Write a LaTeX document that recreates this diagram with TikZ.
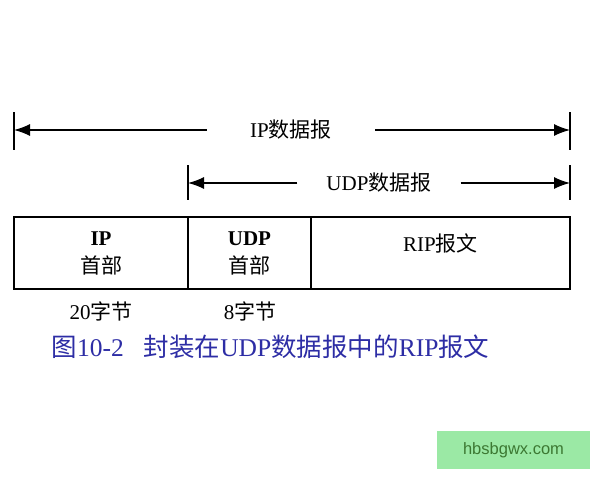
\documentclass[tikz,border=0pt]{standalone}
\usepackage{fontspec}
\setmainfont{Liberation Serif}
\setsansfont{Liberation Sans}
\newfontfamily\cjk{Noto Sans CJK SC}
\usetikzlibrary{calc}
\usetikzlibrary{arrows.meta}
\definecolor{cap-blue}{RGB}{45, 45, 165}
\definecolor{mark-green}{RGB}{155, 233, 165}
\definecolor{mark-text}{RGB}{60, 120, 50}

\tikzset{
  dimline/.style = {line width=1.3pt, -{Latex[length=16pt, width=12pt]}},
  endbar/.style = {line width=1.3pt},
  cell/.style = {draw, line width=1.3pt, minimum height=72pt, inner sep=0pt, align=center},
  lbl/.style = {font=\fontsize{21}{28}\selectfont}
}

\begin{document}
\begin{tikzpicture}[x=1pt, y=-1pt]
          \useasboundingbox (0, 0) rectangle (600, 480);

          % length markers
          \coordinate (ip-l) at (14, 130);
          \coordinate (ip-r) at (570, 130);
          \coordinate (udp-l) at (188, 183);
          \coordinate (udp-r) at (570, 183);

          \draw[endbar] ($(ip-l) + (0, -18)$) -- ($(ip-l) + (0, 20)$);
          \draw[endbar] ($(ip-r) + (0, -18)$) -- ($(ip-r) + (0, 20)$);
          \draw[endbar] ($(udp-l) + (0, -18)$) -- ($(udp-l) + (0, 17)$);
          \draw[endbar] ($(udp-r) + (0, -18)$) -- ($(udp-r) + (0, 17)$);

          \node[lbl, inner xsep=43pt] (ip-dg) at (291, 130) {IP{\cjk 数据报}};
          \node[lbl, inner xsep=29pt] (udp-dg) at (379, 183) {UDP{\cjk 数据报}};

          \draw[dimline] (ip-dg) -- (ip-l);
          \draw[dimline] (ip-dg) -- (ip-r);
          \draw[dimline] (udp-dg) -- (udp-l);
          \draw[dimline] (udp-dg) -- (udp-r);

          % packet
          \node[cell, lbl, minimum width=174pt] (ip-hdr) at (101, 253) {\textbf{IP}\\{\cjk 首部}};
          \node[cell, lbl, minimum width=123pt] (udp-hdr) at (249.5, 253) {\textbf{UDP}\\{\cjk 首部}};
          \node[cell, minimum width=259pt] (rip) at (440.5, 253) {};
          \node[lbl] (rip-txt) at ($(rip.center) + (0, -10)$) {RIP{\cjk 报文}};

          \node[lbl] (ip-len) at (101, 311) {20{\cjk 字节}};
          \node[lbl] (udp-len) at (250, 311) {8{\cjk 字节}};

          \node[font=\fontsize{25.5}{28}\selectfont, text=cap-blue, anchor=west] (caption) at (48, 347)
            {{\cjk 图}10-2\hspace{20pt}{\cjk 封装在}UDP{\cjk 数据报中的}RIP{\cjk 报文}};

          \node[fill=mark-green, minimum width=153pt, minimum height=38pt, text=mark-text,
            font=\sffamily\fontsize{16.5}{18}\selectfont] (mark) at (513.5, 450) {hbsbgwx.com};

        \end{tikzpicture}
\end{document}
